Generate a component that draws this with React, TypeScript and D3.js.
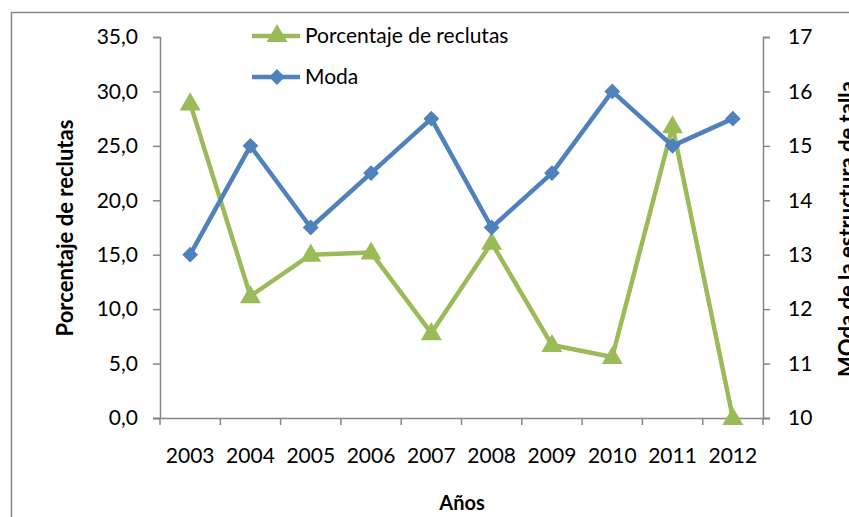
import { useEffect, useRef } from 'react';
import * as d3 from 'd3';

const years = ['2003', '2004', '2005', '2006', '2007', '2008', '2009', '2010', '2011', '2012'];
const reclutas = [28.9, 11.2, 15.0, 15.2, 7.8, 16.1, 6.7, 5.6, 26.8, 0.0];
const moda = [13, 15, 13.5, 14.5, 15.5, 13.5, 14.5, 16, 15, 15.5];
const leftTicks = [0, 5, 10, 15, 20, 25, 30, 35];
const rightTicks = [10, 11, 12, 13, 14, 15, 16, 17];

const GREEN = '#9bbb59';
const BLUE = '#4f81bd';
const AXIS = '#868686';
const FONT = 'Lato, Carlito, sans-serif';

const App = () => {
  const svgRef = useRef<SVGSVGElement>(null);
  const width = 849;
  const height = 517;

  useEffect(() => {
    if (!svgRef.current) return;
    const svg = d3.select(svgRef.current);
    svg.selectAll('*').remove();

    const left = 160, right = 763, top = 37, bottom = 418;

    // chart area border (runs off the right and bottom)
    svg.append('path')
      .attr('d', `M11.5,${height + 5} L11.5,12.5 L${width + 5},12.5`)
      .attr('fill', 'none')
      .attr('stroke', AXIS)
      .attr('stroke-width', 1.5);

    const x = d3.scaleBand().domain(years).range([left, right]);
    const yL = d3.scaleLinear().domain([0, 35]).range([bottom, top]);
    const yR = d3.scaleLinear().domain([10, 17]).range([bottom, top]);

    // left axis
    const gl = svg.append('g').attr('transform', `translate(${left},0)`)
      .call(d3.axisLeft(yL).tickValues(leftTicks).tickSize(7).tickPadding(15)
        .tickFormat(d => d3.format('.1f')(d as number).replace('.', ',')));
    // right axis
    const gr = svg.append('g').attr('transform', `translate(${right},0)`)
      .call(d3.axisRight(yR).tickValues(rightTicks).tickSize(7).tickPadding(18)
        .tickFormat(d3.format('d')));
    // bottom axis
    const gb = svg.append('g').attr('transform', `translate(0,${bottom})`)
      .call(d3.axisBottom(x).tickSize(0).tickPadding(30));
    gb.selectAll('.tick line').remove();
    gb.append('g').selectAll('line')
      .data(d3.range(years.length + 1))
      .enter().append('line')
      .attr('x1', i => left + i * x.step())
      .attr('x2', i => left + i * x.step())
      .attr('y1', 0).attr('y2', 7)
      .attr('stroke', AXIS).attr('stroke-width', 1.5);

    [gl, gr, gb].forEach(g => {
      g.select('.domain').attr('stroke', AXIS).attr('stroke-width', 1.5);
      g.selectAll('.tick line').attr('stroke', AXIS).attr('stroke-width', 1.5);
      g.selectAll('.tick text')
        .style('font-family', FONT)
        .style('font-size', '21px')
        .attr('fill', '#000');
    });
    gb.select('.domain').attr('d', `M${left - 7},0.5H${right + 7}`);

    const cx = (i: number) => (x(years[i]) as number) + x.bandwidth() / 2;

    // green series
    svg.append('path')
      .datum(reclutas)
      .attr('fill', 'none')
      .attr('stroke', GREEN)
      .attr('stroke-width', 4.5)
      .attr('stroke-linejoin', 'round')
      .attr('d', d3.line<number>().x((_, i) => cx(i)).y(d => yL(d)));

    const tri = d3.symbol().type(d3.symbolTriangle).size(190);
    svg.selectAll('.tri')
      .data(reclutas)
      .enter().append('path')
      .attr('class', 'tri')
      .attr('d', tri)
      .attr('fill', GREEN)
      .attr('transform', (d, i) => `translate(${cx(i)},${yL(d) + 1})`);

    // blue series
    svg.append('path')
      .datum(moda)
      .attr('fill', 'none')
      .attr('stroke', BLUE)
      .attr('stroke-width', 4.5)
      .attr('stroke-linejoin', 'round')
      .attr('d', d3.line<number>().x((_, i) => cx(i)).y(d => yR(d)));

    const dia = d3.symbol().type(d3.symbolSquare).size(125);
    svg.selectAll('.dia')
      .data(moda)
      .enter().append('path')
      .attr('class', 'dia')
      .attr('d', dia)
      .attr('fill', BLUE)
      .attr('transform', (d, i) => `translate(${cx(i)},${yR(d)}) rotate(45)`);

    // legend
    const legend = [
      { label: 'Porcentaje de reclutas', color: GREEN, sym: tri, y: 36, rot: 0 },
      { label: 'Moda', color: BLUE, sym: dia, y: 77, rot: 45 },
    ];
    legend.forEach(l => {
      svg.append('line')
        .attr('x1', 252).attr('x2', 300)
        .attr('y1', l.y).attr('y2', l.y)
        .attr('stroke', l.color).attr('stroke-width', 4.5);
      svg.append('path')
        .attr('d', l.sym)
        .attr('fill', l.color)
        .attr('transform', `translate(277,${l.y}) rotate(${l.rot})`);
      svg.append('text')
        .attr('x', 305).attr('y', l.y + 7)
        .style('font-family', FONT).style('font-size', '21px')
        .text(l.label);
    });

    // axis titles
    svg.append('text')
      .attr('transform', `translate(73,228) rotate(-90)`)
      .attr('text-anchor', 'middle')
      .style('font-family', FONT).style('font-size', '22px').style('font-weight', 'bold')
      .text('Porcentaje de reclutas');
    svg.append('text')
      .attr('transform', `translate(855,229) rotate(-90)`)
      .attr('text-anchor', 'middle')
      .style('font-family', FONT).style('font-size', '22px').style('font-weight', 'bold')
      .text('MOda de la estructura de talla');
    svg.append('text')
      .attr('x', 462).attr('y', 510)
      .attr('text-anchor', 'middle')
      .style('font-family', FONT).style('font-size', '20px').style('font-weight', 'bold')
      .text('Años');
  }, []);

  return (
    <svg ref={svgRef} width={width} height={height}
      style={{ position: 'absolute', left: 0, top: 0, background: '#fff', display: 'block' }} />
  );
};

export default App;
